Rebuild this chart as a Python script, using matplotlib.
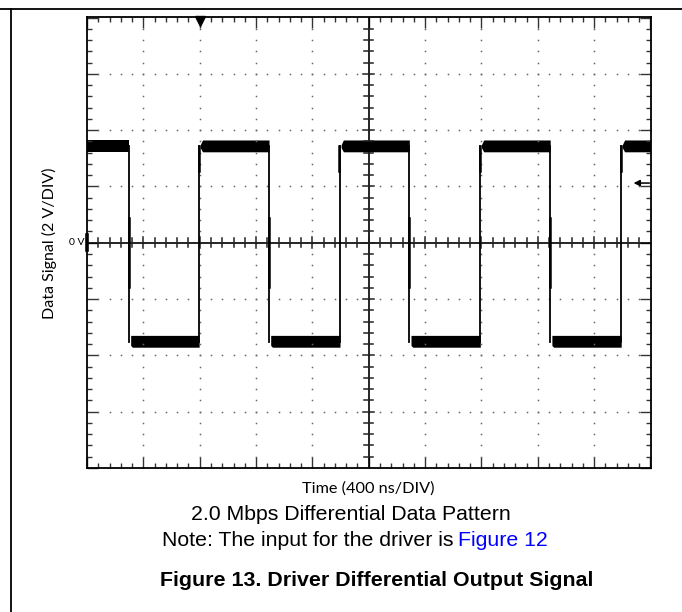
import numpy as np
import matplotlib
matplotlib.use("Agg")
import matplotlib.pyplot as plt
from matplotlib.lines import Line2D

# scope settings
ns_per_div = 400
v_per_div = 2
n_xdiv = 10
n_ydiv = 8

# edge times (ns, relative to screen centre)
edge_times = [-1702, -1204, -708, -204, 288, 792, 1288, 1792]
edge_kind = ["fall", "rise", "fall", "rise", "fall", "rise", "fall", "rise"]
v_high = 3.44
v_low = -3.50
band_v = 0.42  # thickness of the noisy flat band (V)

trigger_time = -1200   # ns, marker on top edge
trigger_level = 2.12   # V, arrow on right edge

W, H, DPI = 682, 612, 100
fig = plt.figure(figsize=(W / DPI, H / DPI), dpi=DPI)

def px(x0, y0, x1, y1):
    return [x0 / W, 1 - y1 / H, (x1 - x0) / W, (y1 - y0) / H]

ax = fig.add_axes(px(87, 17.5, 650.5, 468))
xlim = n_xdiv / 2
ylim = n_ydiv / 2
ax.set_xlim(-xlim, xlim)
ax.set_ylim(-ylim, ylim)

# --- graticule ---
for s in ax.spines.values():
    s.set_linewidth(1.3)
    s.set_color("black")
ax.set_xticks(np.arange(-xlim, xlim + 0.01, 1))
ax.set_yticks(np.arange(-ylim, ylim + 0.01, 1))
ax.set_xticks(np.arange(-xlim, xlim + 0.01, 0.2), minor=True)
ax.set_yticks(np.arange(-ylim, ylim + 0.01, 0.2), minor=True)
ax.tick_params(which="both", direction="in", top=True, right=True,
               labelbottom=False, labelleft=False, color="#333333", width=1.0)
ax.tick_params(which="major", length=8)
ax.tick_params(which="minor", length=3.6)

# dotted grid
gx = np.arange(-xlim, xlim + 0.01, 0.2)
gy = np.arange(-ylim, ylim + 0.01, 0.2)
for xv in range(-int(xlim) + 1, int(xlim)):
    if xv == 0:
        continue
    ax.plot(np.full_like(gy, xv), gy, ls="none", marker="s", ms=1.1,
            color="#666666", mew=0)
for yv in range(-int(ylim) + 1, int(ylim)):
    if yv == 0:
        continue
    ax.plot(gx, np.full_like(gx, yv), ls="none", marker="s", ms=1.1,
            color="#666666", mew=0)

# centre crosshair with ticks
ax.axhline(0, color="black", lw=1.2)
ax.axvline(0, color="black", lw=1.2)
for xv in gx[1:-1]:
    h = 0.1 if abs(xv - round(xv)) < 1e-6 else 0.08
    ax.plot([xv, xv], [-h, h], color="#222222", lw=1.1)
for yv in gy[1:-1]:
    h = 0.1 if abs(yv - round(yv)) < 1e-6 else 0.08
    ax.plot([-h, h], [yv, yv], color="#222222", lw=1.1)

# --- waveform ---
xe = np.array(edge_times) / ns_per_div
hi = v_high / v_per_div
lo = v_low / v_per_div
bh = band_v / v_per_div / 2

# flat segments
bounds = [-xlim] + list(xe) + [xlim]
level = hi  # starts high before first falling edge
for i in range(len(bounds) - 1):
    a, b = bounds[i], bounds[i + 1]
    if i > 0:
        level = lo if edge_kind[i - 1] == "fall" else hi
    if level == hi and i > 0:
        a0 = a + 0.06
        ax.fill_between([a + 0.02, a0, b], [level - bh * 0.3, level - bh, level - bh],
                        [level + bh * 0.2, level + bh, level + bh],
                        color="black", lw=0)
    elif level == lo:
        ax.fill_between([a + 0.03, a + 0.06, b], [level - bh * 0.7, level - bh, level - bh],
                        [level + bh, level + bh, level + bh], color="black", lw=0)
    else:
        ax.fill_between([a, b], [level - bh] * 2, [level + bh] * 2,
                        color="black", lw=0)

# edges
for t, k in zip(xe, edge_kind):
    ax.plot([t, t], [lo - bh * 0.2, hi], color="black", lw=1.3)
    if k == "fall":
        ax.plot([t, t], [-0.79, 0.44], color="black", lw=1.8)
    else:
        ax.plot([t - 0.01, t - 0.01], [hi - 0.45, hi], color="black", lw=1.8)

# trigger markers
ax.plot([trigger_time / ns_per_div], [ylim - 0.06], marker="v", ms=7,
        color="black", clip_on=False)
ax.annotate("", xy=(4.7, trigger_level / v_per_div),
            xytext=(4.98, trigger_level / v_per_div),
            arrowprops=dict(arrowstyle="-|>", color="black", lw=1.1,
                            mutation_scale=9, shrinkA=0, shrinkB=0))
ax.plot([-xlim, -xlim], [-0.13, 0.13], color="black", lw=2.6, clip_on=False)
ax.text(-xlim - 0.05, 0, "0 V", ha="right", va="center", fontsize=7.5,
        family="Lato")

# --- labels ---
fig.text(49 / W, 1 - 243 / H, "Data Signal (2 V/DIV)", rotation=90,
         ha="center", va="center", fontsize=11.5, family="Lato")
fig.text(368 / W, 1 - 489 / H, "Time (400 ns/DIV)", ha="center",
         va="center", fontsize=11.7, family="Lato")
fig.text(351 / W, 1 - 514 / H, "2.0 Mbps Differential Data Pattern",
         ha="center", va="center", fontsize=15.3, family="Liberation Sans")
fig.text(453 / W, 1 - 540 / H, "Note: The input for the driver is",
         ha="right", va="center", fontsize=15.3, family="Liberation Sans")
fig.text(458 / W, 1 - 540 / H, "Figure 12", ha="left", va="center",
         fontsize=15.3, family="Liberation Sans", color="#0000ff")
fig.text(377 / W, 1 - 580 / H, "Figure 13. Driver Differential Output Signal",
         ha="center", va="center", fontsize=15.4, family="Liberation Sans",
         weight="bold")

# page frame lines
fig.add_artist(Line2D([0, 1], [1 - 9 / H, 1 - 9 / H], color="black", lw=1.3))
fig.add_artist(Line2D([10.5 / W, 10.5 / W], [0, 1 - 9 / H], color="black", lw=1.3))

fig.savefig("out.png", dpi=DPI)
